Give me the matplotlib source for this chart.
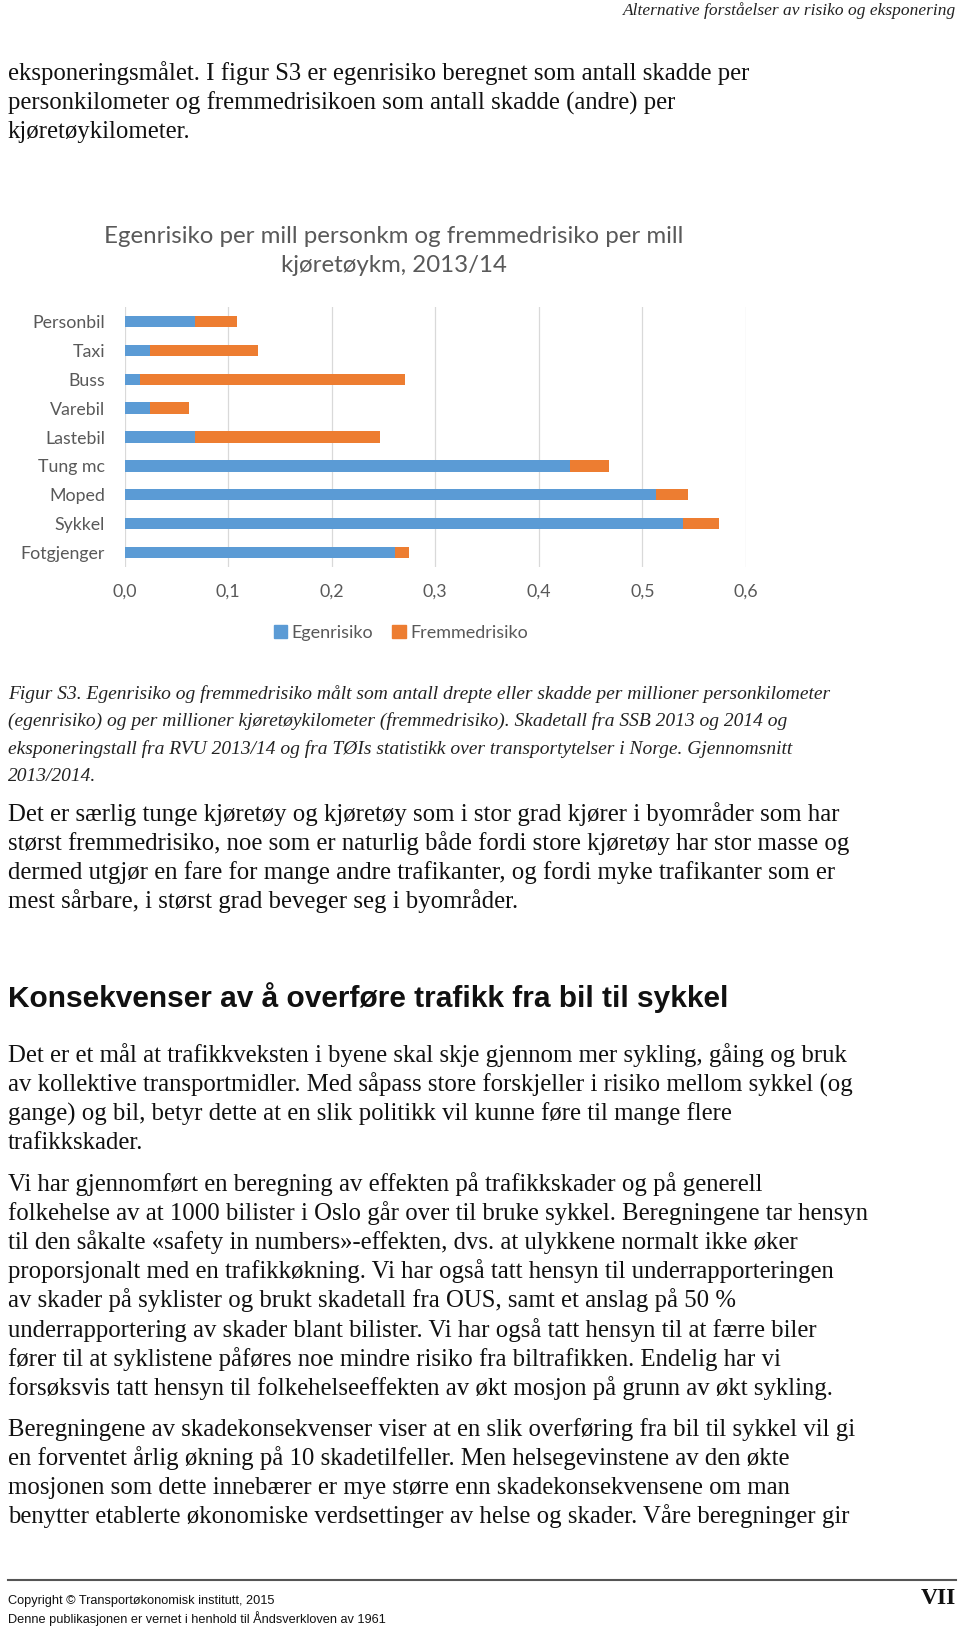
import matplotlib
matplotlib.use('Agg')
import matplotlib.pyplot as plt
from matplotlib.patches import Patch

# chart data
categories = ['Personbil', 'Taxi', 'Buss', 'Varebil', 'Lastebil',
              'Tung mc', 'Moped', 'Sykkel', 'Fotgjenger']
egenrisiko = [0.068, 0.025, 0.015, 0.025, 0.068, 0.430, 0.513, 0.539, 0.261]
fremmedrisiko = [0.041, 0.104, 0.256, 0.037, 0.179, 0.038, 0.031, 0.035,
                 0.014]
x_ticks = [0.0, 0.1, 0.2, 0.3, 0.4, 0.5, 0.6]
x_tick_labels = ['0,0', '0,1', '0,2', '0,3', '0,4', '0,5', '0,6']
series_names = ['Egenrisiko', 'Fremmedrisiko']
chart_title = 'Egenrisiko per mill personkm og fremmedrisiko per mill\nkjøretøykm, 2013/14'

# page text
header = 'Alternative forståelser av risiko og eksponering'
para1 = ['eksponeringsmålet. I figur S3 er egenrisiko beregnet som antall skadde per',
         'personkilometer og fremmedrisikoen som antall skadde (andre) per',
         'kjøretøykilometer.']
caption = ['Figur S3. Egenrisiko og fremmedrisiko målt som antall drepte eller skadde per millioner personkilometer',
           '(egenrisiko) og per millioner kjøretøykilometer (fremmedrisiko). Skadetall fra SSB 2013 og 2014 og',
           'eksponeringstall fra RVU 2013/14 og fra TØIs statistikk over transportytelser i Norge. Gjennomsnitt',
           '2013/2014.']
para2 = ['Det er særlig tunge kjøretøy og kjøretøy som i stor grad kjører i byområder som har',
         'størst fremmedrisiko, noe som er naturlig både fordi store kjøretøy har stor masse og',
         'dermed utgjør en fare for mange andre trafikanter, og fordi myke trafikanter som er',
         'mest sårbare, i størst grad beveger seg i byområder.']
heading = 'Konsekvenser av å overføre trafikk fra bil til sykkel'
para3 = ['Det er et mål at trafikkveksten i byene skal skje gjennom mer sykling, gåing og bruk',
         'av kollektive transportmidler. Med såpass store forskjeller i risiko mellom sykkel (og',
         'gange) og bil, betyr dette at en slik politikk vil kunne føre til mange flere',
         'trafikkskader.']
para4 = ['Vi har gjennomført en beregning av effekten på trafikkskader og på generell',
         'folkehelse av at 1000 bilister i Oslo går over til bruke sykkel. Beregningene tar hensyn',
         'til den såkalte «safety in numbers»-effekten, dvs. at ulykkene normalt ikke øker',
         'proporsjonalt med en trafikkøkning. Vi har også tatt hensyn til underrapporteringen',
         'av skader på syklister og brukt skadetall fra OUS, samt et anslag på 50 %',
         'underrapportering av skader blant bilister. Vi har også tatt hensyn til at færre biler',
         'fører til at syklistene påføres noe mindre risiko fra biltrafikken. Endelig har vi',
         'forsøksvis tatt hensyn til folkehelseeffekten av økt mosjon på grunn av økt sykling.']
para5 = ['Beregningene av skadekonsekvenser viser at en slik overføring fra bil til sykkel vil gi',
         'en forventet årlig økning på 10 skadetilfeller. Men helsegevinstene av den økte',
         'mosjonen som dette innebærer er mye større enn skadekonsekvensene om man',
         'benytter etablerte økonomiske verdsettinger av helse og skader. Våre beregninger gir']
footer_lines = ['Copyright © Transportøkonomisk institutt, 2015',
                'Denne publikasjonen er vernet i henhold til Åndsverkloven av 1961']

W, H = 960, 1630
BLUE = '#5B9BD5'
ORANGE = '#ED7D31'
GREY = '#595959'
SERIF = 'Liberation Serif'
CHART_FONT = 'Lato'
LINE = 29.1


def fx(x):
    return x / W


def fy(y):
    return 1 - y / H


def text_block(fig, lines, y0, step=LINE, **kw):
    # one line per entry, y0 is the baseline of the first line in pixels
    for i, line in enumerate(lines):
        fig.text(fx(8), fy(y0 + i * step), line, va='baseline', ha='left', **kw)


def draw_chart(fig):
    ax = fig.add_axes([fx(124.6), fy(567), fx(746 - 124.6), (567 - 307) / H])
    pos = range(len(categories))
    ax.barh(pos, egenrisiko, height=0.39, color=BLUE, zorder=3)
    ax.barh(pos, fremmedrisiko, left=egenrisiko, height=0.39, color=ORANGE,
            zorder=3)
    ax.set_ylim(len(categories) - 0.5, -0.5)
    ax.set_xlim(0, 0.6)
    ax.set_yticks(list(pos))
    ax.set_yticklabels(categories)
    ax.set_xticks(x_ticks)
    ax.set_xticklabels(x_tick_labels)
    for s in ax.spines.values():
        s.set_visible(False)
    ax.grid(axis='x', color='#D9D9D9', lw=0.9, zorder=0)
    ax.tick_params(length=0, colors=GREY, labelsize=12.8)
    ax.tick_params(axis='y', pad=14)
    ax.tick_params(axis='x', pad=12)
    for lab in ax.get_xticklabels() + ax.get_yticklabels():
        lab.set_fontfamily(CHART_FONT)

    fig.text(fx(394), fy(251), chart_title, ha='center', va='center',
             fontsize=17.3, color=GREY, family=CHART_FONT, linespacing=1.5)

    handles = [Patch(color=BLUE), Patch(color=ORANGE)]
    fig.legend(handles, series_names, loc='center', ncol=2,
               bbox_to_anchor=(fx(401), fy(633)), frameon=False,
               prop={'family': CHART_FONT, 'size': 13}, labelcolor=GREY,
               handlelength=0.75, handleheight=0.75, handletextpad=0.25,
               columnspacing=1.05)


def main():
    fig = plt.figure(figsize=(W / 100, H / 100), dpi=100)

    fig.text(fx(956), fy(15), header, ha='right', va='baseline',
             family=SERIF, style='italic', fontsize=12.5, color='#222222')

    body = dict(family=SERIF, fontsize=17.8, color='#111111')
    text_block(fig, para1, 80, **body)
    draw_chart(fig)
    # caption lines are a bit tighter than body text
    text_block(fig, caption, 699, step=27.3, family=SERIF, style='italic',
               fontsize=14, color='#222222')
    text_block(fig, para2, 821, **body)
    fig.text(fx(8), fy(1007), heading, ha='left', va='baseline',
             family='Liberation Sans', weight='bold', fontsize=21.5,
             color='#111111')
    text_block(fig, para3, 1062, **body)
    text_block(fig, para4, 1191, **body)
    text_block(fig, para5, 1436, **body)

    fig.add_artist(plt.Line2D([fx(8), fx(956)], [fy(1580), fy(1580)],
                              color='#555555', lw=1.5))
    for i, line in enumerate(footer_lines):
        fig.text(fx(8), fy(1601 + i * 18), line, ha='left', va='center',
                 family='Liberation Sans', fontsize=9.2, color='#111111')
    fig.text(fx(956), fy(1598), 'VII', ha='right', va='center', family=SERIF,
             weight='bold', fontsize=17, color='#111111')

    fig.savefig('out.png', dpi=100, facecolor='white')


if __name__ == '__main__':
    main()
